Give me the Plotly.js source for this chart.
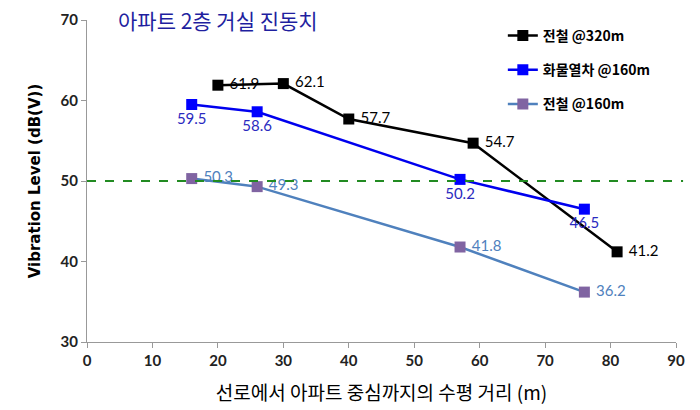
<!DOCTYPE html>
<html><head><meta charset="utf-8">
<script src="https://cdn.plot.ly/plotly-3.0.1.min.js"></script>
<style>body{margin:0;background:#fff}#c{width:700px;height:410px}</style>
</head><body><div id="c"></div>
<script>
const seriesNames = ['전철 @320m', '화물열차 @160m', '전철 @160m'];
const x320 = [20, 30, 40, 59, 81];
const y320 = [61.9, 62.1, 57.7, 54.7, 41.2];
const xFreight = [16, 26, 57, 76];
const yFreight = [59.5, 58.6, 50.2, 46.5];
const x160 = [16, 26, 57, 76];
const y160 = [50.3, 49.3, 41.8, 36.2];
const refLevel = 50;
const xTicks = [0, 10, 20, 30, 40, 50, 60, 70, 80, 90];
const yTicks = [30, 40, 50, 60, 70];

const labelFont = {family: 'Lato, "Noto Sans CJK KR", sans-serif', size: 15};
function tr(x, y, name, lineColor, markerColor, textColor, pos, grp, pre) {
  return {
    x: x, y: y, name: name, type: 'scatter', mode: 'lines+markers+text',
    text: y.map(v => pre + v.toFixed(1)), textposition: pos,
    textfont: Object.assign({color: textColor}, labelFont),
    line: {color: lineColor, width: 2.5},
    marker: {symbol: 'square', size: 11, color: markerColor},
    legendgroup: grp, cliponaxis: false
  };
}
const data = [
  tr(x320, y320, seriesNames[0], '#000000', '#000000', '#000000', 'middle right', 'a', ' '),
  tr(xFreight, yFreight, seriesNames[1], '#0000ee', '#0000ff', '#2a2ac0', 'bottom center', 'b', ''),
  tr(x160, y160, seriesNames[2], '#4f81bd', '#8064a2', '#4f81bd', 'middle right', 'c', ' ')
];
const tickFont = {family: 'Lato, "DejaVu Sans", sans-serif', size: 15, color: '#222', weight: 'bold'};
const layout = {
  width: 700, height: 410,
  margin: {l: 87, r: 24, t: 20, b: 68},
  paper_bgcolor: '#fff', plot_bgcolor: '#fff',
  showlegend: true,
  legend: {x: 0.706, y: 1.0, xanchor: 'left', yanchor: 'top', bgcolor: 'rgba(0,0,0,0)',
    tracegroupgap: 13,
    font: {family: '"Noto Sans CJK KR", sans-serif', size: 14, color: '#000', weight: 'bold'}},
  xaxis: {range: [0, 90], tickvals: xTicks, showgrid: false, zeroline: false,
    showline: true, linecolor: '#999', linewidth: 1, ticks: 'outside', ticklen: 5, tickcolor: '#999',
    tickfont: tickFont,
    title: {text: '선로에서 아파트 중심까지의 수평 거리 (m)', standoff: 18,
      font: {family: '"Noto Sans CJK KR", sans-serif', size: 19, color: '#000'}}},
  yaxis: {range: [30, 70], tickvals: yTicks, showgrid: false, zeroline: false,
    showline: true, linecolor: '#999', linewidth: 1, ticks: 'outside', ticklen: 5, tickcolor: '#999',
    tickfont: tickFont,
    title: {text: 'Vibration Level (dB(V))', standoff: 16,
      font: {family: '"DejaVu Sans", sans-serif', size: 15, color: '#000', weight: 'bold'}}},
  shapes: [{type: 'line', xref: 'paper', yref: 'y', x0: 0, x1: 1.012, y0: refLevel, y1: refLevel,
    line: {color: '#228b22', width: 2, dash: 'dash'}}],
  annotations: [{text: '아파트 2층 거실 진동치', xref: 'paper', yref: 'paper', x: 0.05, y: 1.0,
    xanchor: 'left', yanchor: 'middle', showarrow: false,
    font: {family: '"Noto Sans CJK KR", sans-serif', size: 21, color: '#1f1f9f'}}]
};
Plotly.newPlot('c', data, layout, {displayModeBar: false, staticPlot: true});
</script></body></html>
